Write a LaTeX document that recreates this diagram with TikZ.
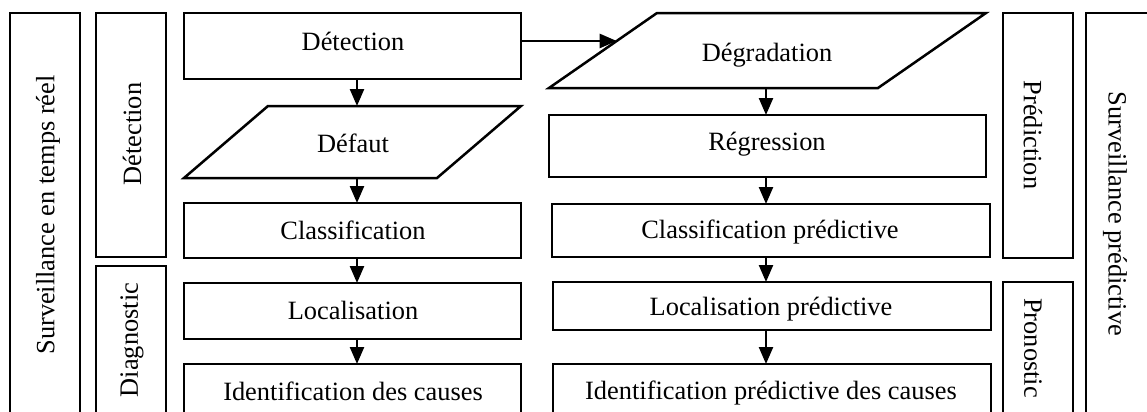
\documentclass[tikz,border=0pt]{standalone}
\usepackage{fontspec}
\setmainfont{Liberation Serif}
\usetikzlibrary{arrows.meta,calc}

\tikzset{
  mainbox/.style={draw=black, line width=1.25pt, inner sep=0pt, outer sep=0pt},
  sidebox/.style={draw=black, line width=1.1pt, inner sep=0pt, outer sep=0pt},
  hollow/.style={inner sep=0pt, outer sep=0pt},
  lbl/.style={font=\fontsize{13.2}{15}\selectfont, inner sep=0pt},
  arr/.style={line width=1.2pt, -{Triangle[width=7pt,length=8.5pt]}},
}

% box node: name, x1, y1, x2, y2, style
\newcommand\BoxAt[6]{%
  \node[#6, minimum width={(#4-#2)*0.5pt}, minimum height={(#5-#3)*0.5pt}]
    (#1) at ({(#2+#4)/2},{(#3+#5)/2}) {};}
% slanted box: name, x1, y1, x2, y2, horizontal offset of the slant
\newcommand\SlantAt[6]{%
  \BoxAt{#1}{#2}{#3}{#4}{#5}{hollow}
  \coordinate (#1-tl) at ($(#1.north west)+(#6,0)$);
  \coordinate (#1-br) at ($(#1.south east)-(#6,0)$);
  \draw[mainbox] (#1-tl) -- (#1.north east) -- (#1-br) -- (#1.south west) -- cycle;}

\begin{document}
\begin{tikzpicture}[x=0.5pt,y=-0.5pt]
\useasboundingbox (0,0) rectangle (1147,412);
\clip (0,0) rectangle (1147,412);

% outer and side bands
\BoxAt{survL}{10}{13}{80}{418}{sidebox}
\node[lbl, rotate=90] (survLt) at (48,215) {Surveillance en temps réel};
\BoxAt{detL}{96}{13}{166}{257}{sidebox}
\node[lbl, rotate=90] (detLt) at (132,134) {Détection};
\BoxAt{diagL}{96}{266}{166}{416}{sidebox}
\node[lbl, rotate=90] (diagLt) at (132,340) {Diagnostic};
\BoxAt{predR}{1003}{13}{1073}{258}{sidebox}
\node[lbl, rotate=-90] (predRt) at (1033,135) {Prédiction};
\BoxAt{pronR}{1003}{282}{1073}{416}{sidebox}
\node[lbl, rotate=-90] (pronRt) at (1033,348) {Pronostic};
\BoxAt{survR}{1086}{13}{1156}{418}{sidebox}
\node[lbl, rotate=-90] (survRt) at (1115,214) {Surveillance prédictive};

% real-time chain
\BoxAt{det}{184}{13}{521}{79}{mainbox}
\node[lbl] (dett) at (353,41) {Détection};
\SlantAt{defaut}{184}{106}{521}{178}{84}
\node[lbl] (defautt) at (353,143) {Défaut};
\BoxAt{classif}{184}{203}{521}{258}{mainbox}
\node[lbl] (classift) at (353,230) {Classification};
\BoxAt{loc}{184}{283}{521}{339}{mainbox}
\node[lbl] (loct) at (353,310) {Localisation};
\BoxAt{ident}{184}{364}{521}{422}{mainbox}
\node[lbl] (identt) at (353,391) {Identification des causes};

% predictive chain
\SlantAt{degr}{549}{13}{986}{88}{108}
\node[lbl] (degrt) at (767,55) {Dégradation};
\BoxAt{regr}{549}{115}{986}{177}{mainbox}
\node[lbl] (regrt) at (767,144) {Régression};
\BoxAt{classp}{552}{204}{990}{257}{mainbox}
\node[lbl] (classpt) at (770,232) {Classification prédictive};
\BoxAt{locp}{553}{282}{991}{330}{mainbox}
\node[lbl] (locpt) at (771,309) {Localisation prédictive};
\BoxAt{identp}{553}{364}{991}{422}{mainbox}
\node[lbl] (identpt) at (771,393) {Identification prédictive des causes};

% connectors, left chain
\draw[arr] ([xshift=2.25pt]det.south) -- ([xshift=2.25pt]defaut.north);
\draw[arr] ([xshift=2.25pt]defaut.south) -- ([xshift=2.25pt]classif.north);
\draw[arr] ([xshift=2.25pt]classif.south) -- ([xshift=2.25pt]loc.north);
\draw[arr] ([xshift=2.25pt]loc.south) -- ([xshift=2.25pt]ident.north);

% connectors, right chain
\draw[arr] ([xshift=-0.75pt]degr.south) -- ([xshift=-0.75pt]regr.north);
\draw[arr] ([xshift=-0.75pt]regr.south) -- ([xshift=-0.75pt]regr.south |- classp.north);
\draw[arr] ([xshift=-2.5pt]classp.south) -- ([xshift=-2.5pt]classp.south |- locp.north);
\draw[arr] ([xshift=-3pt]locp.south) -- ([xshift=-3pt]locp.south |- identp.north);

% detection feeds degradation
\coordinate (hit) at ($(degr.south west)!0.627!(degr-tl)$);
\draw[arr] (det.east |- hit) -- (hit);
\end{tikzpicture}
\end{document}
